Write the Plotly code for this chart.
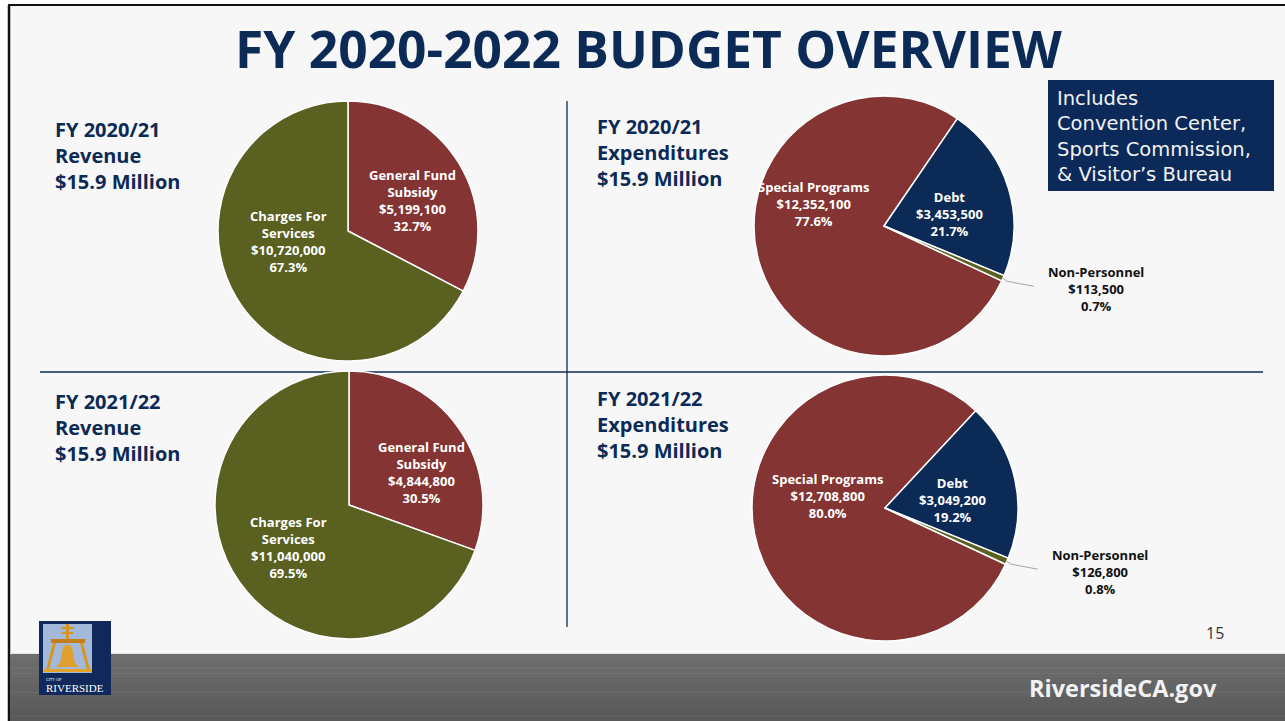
import math
import plotly.graph_objects as go

# ---- data -------------------------------------------------------------
rev_labels = ["General Fund<br>Subsidy", "Charges For<br>Services"]
rev_2021 = [5199100, 10720000]
rev_2122 = [4844800, 11040000]

exp_labels = ["Special Programs", "Debt", "Non-Personnel"]
exp_2021 = [12352100, 3453500, 113500]
exp_2122 = [12708800, 3049200, 126800]

panel_titles = [
    "FY 2020/21<br>Revenue<br>$15.9 Million",
    "FY 2020/21<br>Expenditures<br>$15.9 Million",
    "FY 2021/22<br>Revenue<br>$15.9 Million",
    "FY 2021/22<br>Expenditures<br>$15.9 Million",
]
note_text = "Includes<br>Convention Center,<br>Sports Commission,<br>&amp; Visitor’s Bureau"

# ---- styling ----------------------------------------------------------
W, H = 1285, 721
NAVY = "#0c2a56"
MAROON = "#843432"
OLIVE = "#596020"
BG = "#f7f7f7"
FONT = "Open Sans"

rev_colors = [MAROON, OLIVE]
exp_colors = [MAROON, NAVY, OLIVE]

# pie placement in pixels (centre, radius) and label anchors as offsets from centre
pies = [
    dict(vals=rev_2021, labels=rev_labels, colors=rev_colors, cx=348, cy=231, r=130, rot=0,
         lab=[(64, -31), (-60, 10)]),
    dict(vals=exp_2021, labels=exp_labels, colors=exp_colors, cx=884, cy=226, r=130, rot=115,
         lab=[(-71, -22), (65, -12), None]),
    dict(vals=rev_2122, labels=rev_labels, colors=rev_colors, cx=349, cy=505, r=134, rot=0,
         lab=[(72, -33), (-61, 42)]),
    dict(vals=exp_2122, labels=exp_labels, colors=exp_colors, cx=885, cy=508, r=133, rot=115,
         lab=[(-58, -12), (67, -8), None]),
]


def px_dom(cx, cy, r):
    return dict(x=[(cx - r) / W, (cx + r) / W], y=[1 - (cy + r) / H, 1 - (cy - r) / H])


fig = go.Figure()
annos = []

for p in pies:
    fig.add_trace(go.Pie(
        labels=p["labels"], values=p["vals"], sort=False, direction="clockwise",
        rotation=p["rot"], domain=px_dom(p["cx"], p["cy"], p["r"]),
        marker=dict(colors=p["colors"], line=dict(color="white", width=1.5)),
        textinfo="none", showlegend=False, hoverinfo="label+value+percent",
    ))
    total = sum(p["vals"])
    for lbl, v, off in zip(p["labels"], p["vals"], p["lab"]):
        if off is None:
            continue
        annos.append(dict(
            x=p["cx"] + off[0], y=p["cy"] + off[1], xref="x", yref="y",
            text=f"<b>{lbl}<br>${v:,.0f}<br>{100 * v / total:.1f}%</b>",
            showarrow=False, xanchor="center", yanchor="middle", align="center",
            font=dict(family=FONT, size=13, color="white")))

# hidden pixel-space axes for the slide decoration
fig.update_xaxes(range=[0, W], visible=False, fixedrange=True)
fig.update_yaxes(range=[H, 0], visible=False, fixedrange=True)

shapes = []

# slide background and frame
shapes.append(dict(type="rect", x0=9, y0=5, x1=W, y1=H, fillcolor=BG, line_width=0, layer="below"))
shapes.append(dict(type="line", x0=8, y0=5, x1=W, y1=5, line=dict(color="#111111", width=2), layer="below"))
shapes.append(dict(type="line", x0=9, y0=5, x1=9, y1=H, line=dict(color="#111111", width=2.5), layer="below"))

# footer band (stepped vertical gradient)
top, bot = 654, H
steps = 14
c0, c1 = (0x6e, 0x6e, 0x6e), (0x59, 0x59, 0x59)
for i in range(steps):
    y0 = top + (bot - top) * i / steps
    y1 = top + (bot - top) * (i + 1) / steps + 0.5
    t = i / (steps - 1)
    c = tuple(round(a + (b - a) * t) for a, b in zip(c0, c1))
    shapes.append(dict(type="rect", x0=10, x1=W, y0=y0, y1=y1,
                       fillcolor="rgb(%d,%d,%d)" % c, line_width=0, layer="below"))
shapes.append(dict(type="line", x0=10, x1=W, y0=653.5, y1=653.5,
                   line=dict(color="#e4e4e4", width=1), layer="below"))

# quadrant dividers
shapes.append(dict(type="line", x0=40, x1=1263, y0=372, y1=372, line=dict(color=NAVY, width=1.3), layer="below"))
shapes.append(dict(type="line", x0=567, x1=567, y0=101, y1=627, line=dict(color=NAVY, width=1.3), layer="below"))

# note box
shapes.append(dict(type="rect", x0=1048, y0=80, x1=1274, y1=191, fillcolor="#0b2a5a", line_width=0, layer="below"))
annos.append(dict(x=1055, y=136, xref="x", yref="y", text=note_text, showarrow=False,
                  xanchor="left", yanchor="middle", align="left",
                  font=dict(family="DejaVu Sans", size=19.5, color="#f2f2f2")))

# title
annos.append(dict(x=648, y=48, xref="x", yref="y", text="<b>FY 2020-2022 BUDGET OVERVIEW</b>",
                  showarrow=False, xanchor="center", yanchor="middle",
                  font=dict(family=FONT, size=51.5, color=NAVY)))

# panel headings
for (x, y), txt in zip([(53, 155), (595, 152), (53, 427), (595, 424)], panel_titles):
    annos.append(dict(x=x, y=y, xref="x", yref="y", text="<b>" + txt + "</b>", showarrow=False,
                      xanchor="left", yanchor="middle", align="left",
                      font=dict(family=FONT, size=20, color=NAVY)))

# call-out for the small Non-Personnel slice, placed from the slice's own angle
for p in (pies[1], pies[3]):
    vals = p["vals"]
    total = sum(vals)
    mid = p["rot"] + 360 * (vals[0] + vals[1] + vals[2] / 2) / total
    a = math.radians(mid)
    ex = p["cx"] + p["r"] * math.sin(a)
    ey = p["cy"] - p["r"] * math.cos(a)
    shapes.append(dict(type="path",
                       path=f"M {ex:.1f},{ey:.1f} L {ex + 4:.1f},{ey + 3:.1f} L {ex + 31:.1f},{ey + 8:.1f}",
                       line=dict(color="#a6a6a6", width=1)))
    annos.append(dict(x=ex + 93, y=ey + 11, xref="x", yref="y",
                      text=f"<b>{p['labels'][2]}<br>${vals[2]:,.0f}<br>{100 * vals[2] / total:.1f}%</b>",
                      showarrow=False, xanchor="center", yanchor="middle", align="center",
                      font=dict(family=FONT, size=13, color="#111111")))

# page number and footer link
annos.append(dict(x=1215, y=633, xref="x", yref="y", text="15", showarrow=False,
                  font=dict(family=FONT, size=16, color="#333333")))
annos.append(dict(x=1123, y=688, xref="x", yref="y", text="<b>RiversideCA.gov</b>", showarrow=False,
                  font=dict(family=FONT, size=23.5, color="#f2f2f2")))

# city seal
shapes += [
    dict(type="rect", x0=39, y0=621, x1=111, y1=695, fillcolor="#10295a", line_width=0),
    dict(type="rect", x0=43, y0=624, x1=92, y1=673, fillcolor="#a3b9d9", line_width=0),
    dict(type="rect", x0=66, y0=624, x1=69, y1=641, fillcolor="#d8951e", line_width=0),
    dict(type="rect", x0=61, y0=627, x1=74, y1=629, fillcolor="#d8951e", line_width=0),
    dict(type="rect", x0=62, y0=632, x1=73, y1=634, fillcolor="#d8951e", line_width=0),
    dict(type="rect", x0=51, y0=639, x1=85, y1=643, fillcolor="#c47f1a", line_width=0),
    dict(type="path", path="M 53,643 L 56,643 L 49,670 L 46,670 Z", fillcolor="#d8951e", line_width=0),
    dict(type="path", path="M 80,643 L 83,643 L 90,670 L 87,670 Z", fillcolor="#d8951e", line_width=0),
    dict(type="rect", x0=44, y0=669, x1=92, y1=672, fillcolor="#e3a22a", line_width=0),
    dict(type="path", path="M 63,647 Q 67,642 72,647 L 74,659 Q 75,665 80,667 L 55,667 Q 60,665 61,659 Z",
         fillcolor="#e0a030", line_width=0),
]
annos.append(dict(x=44, y=679, xref="x", yref="y", text="CITY OF", showarrow=False, xanchor="left",
                  font=dict(family="DejaVu Sans", size=4, color="white")))
annos.append(dict(x=75, y=688, xref="x", yref="y", text="RIVERSIDE", showarrow=False,
                  font=dict(family="Liberation Serif", size=11, color="white")))

fig.update_layout(
    width=W, height=H, margin=dict(l=0, r=0, t=0, b=0),
    paper_bgcolor="white", plot_bgcolor="rgba(0,0,0,0)",
    shapes=shapes, annotations=annos,
)

fig.write_html("out.html", config={"displayModeBar": False})
